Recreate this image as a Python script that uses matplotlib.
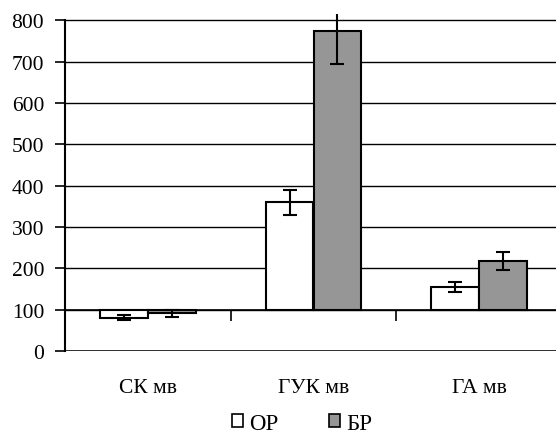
import numpy as np
import matplotlib.pyplot as plt
from matplotlib.patches import Patch

categories = ['СК мв', 'ГУК мв', 'ГА мв']
op_values = [81, 360, 155]
op_errors = [6, 30, 12]
br_values = [91, 773, 218]
br_errors = [8, 78, 22]
y_ticks = [0, 100, 200, 300, 400, 500, 600, 700, 800]

plt.rcParams['font.family'] = ['Liberation Serif', 'DejaVu Serif']

fig = plt.figure(figsize=(5.56, 4.35), dpi=100)
ax = fig.add_axes([65 / 556, 83 / 435, 497 / 556, 337 / 435])

x = np.arange(len(categories))
w = 0.288
base = 100
err_kw = dict(ecolor='black', elinewidth=1.5, capsize=5, capthick=1.5)

ax.bar(x - w / 2, np.array(op_values) - base, w, bottom=base, color='white',
       edgecolor='black', linewidth=1.5, yerr=op_errors, error_kw=err_kw, zorder=3)
ax.bar(x + w / 2, np.array(br_values) - base, w, bottom=base, color='#969696',
       edgecolor='black', linewidth=1.5, yerr=br_errors, error_kw=err_kw, zorder=3)

ax.set_xlim(-0.5, len(categories) - 0.5)
ax.set_ylim(0, 815)
ax.set_yticks(y_ticks)
ax.tick_params(axis='y', direction='out', length=7, width=1.2, labelsize=15.5, pad=8)
for t in y_ticks:
    ax.axhline(t, color='black', lw=1.0, zorder=1)
ax.axhline(0, color='black', lw=1.8, zorder=2)

# horizontal axis crosses at 100
ax.spines['bottom'].set_position(('data', base))
ax.spines['bottom'].set_linewidth(1.2)
ax.spines['left'].set_bounds(0, 800)
ax.spines['left'].set_linewidth(1.5)
ax.spines['top'].set_visible(False)
ax.spines['right'].set_visible(False)
ax.set_xticks(np.arange(len(categories) + 1) - 0.5)
ax.set_xticklabels([])
ax.tick_params(axis='x', direction='out', length=8, width=1.2)

for i, c in enumerate(categories):
    ax.text(i, -0.108, c, transform=ax.get_xaxis_transform(), ha='center',
            va='center', fontsize=15.5)

handles = [Patch(facecolor='white', edgecolor='black', lw=1.2, label='ОР'),
           Patch(facecolor='#969696', edgecolor='black', lw=1.2, label='БР')]
fig.legend(handles=handles, loc='center', bbox_to_anchor=(0.543, 0.025), ncol=2,
           frameon=False, fontsize=16.5, handlelength=0.5, handleheight=0.5,
           handletextpad=0.25, columnspacing=2.2, borderpad=0.0)

fig.savefig('out.png', dpi=100)
